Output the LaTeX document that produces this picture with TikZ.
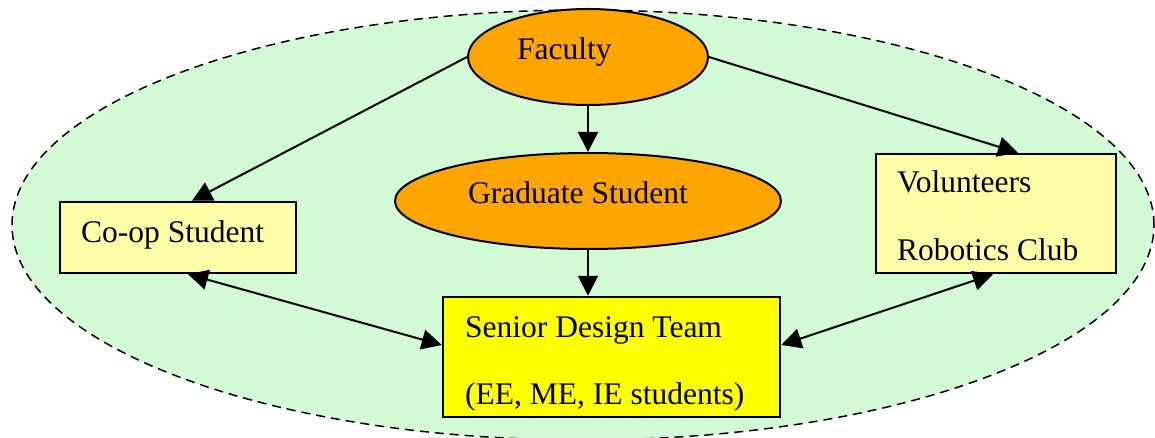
\documentclass[tikz,border=0pt]{standalone}
\usepackage{fontspec}
\setmainfont{Liberation Serif}
\usetikzlibrary{shapes.geometric,arrows.meta}
\definecolor{bggreen}{RGB}{210,250,212}
\definecolor{orangefill}{RGB}{255,165,0}
\definecolor{paleyellow}{RGB}{255,252,168}
\definecolor{brightyellow}{RGB}{255,255,0}
\begin{document}
\begin{tikzpicture}[x=1pt,y=-1pt,
  txt/.style={anchor=base west, inner sep=0, font=\fontsize{31.5}{36}\selectfont},
  oval/.style={ellipse, draw, line width=2pt, fill=orangefill, inner sep=0},
  box/.style={rectangle, draw, line width=2.5pt, inner sep=0},
  arr/.style={line width=2pt, -{Triangle[length=20pt,width=20pt]}},
  darr/.style={line width=2pt, {Triangle[length=20pt,width=20pt]}-{Triangle[length=20pt,width=20pt]}}]
\useasboundingbox (0,0) rectangle (1155,438);
\node[ellipse, draw, dash pattern=on 9pt off 6pt, line width=1.5pt, fill=bggreen,
      minimum width=1142pt, minimum height=430pt, inner sep=0] (bg) at (583,225) {};
% shapes
\node[oval, minimum width=240pt, minimum height=96pt] (fac) at (588,57) {};
\node[oval, minimum width=386pt, minimum height=96pt] (grad) at (588,201) {};
\node[box, fill=paleyellow, minimum width=236pt, minimum height=71pt] (coop) at (178,237.5) {};
\node[box, fill=paleyellow, minimum width=240pt, minimum height=119pt] (vol) at (996,213.5) {};
\node[box, fill=brightyellow, minimum width=337pt, minimum height=120pt] (sen) at (611.5,357) {};
% texts
\node[txt] (facT) at (517,60) {Faculty};
\node[txt] (gradT) at (468,204) {Graduate Student};
\node[txt] (coopT) at (81,242) {Co-op Student};
\node[txt] (volT1) at (897,193) {Volunteers};
\node[txt] (volT2) at (897,260) {Robotics Club};
\node[txt] (senT1) at (465,337) {Senior Design Team};
\node[txt] (senT2) at (465,404) {(EE, ME, IE students)};
% connectors
\draw[arr] (fac.west) -- ([xshift=14pt]coop.north);
\draw[arr] (fac.east) -- ([xshift=22pt]vol.north);
\draw[arr] (fac.south) -- (grad.north);
\draw[arr] (grad.south) -- ([xshift=-23.5pt]sen.north);
\draw[darr] ([xshift=10pt]coop.south) -- ([yshift=12pt]sen.west);
\draw[darr] ([xshift=-3pt]vol.south) -- ([yshift=12pt]sen.east);
\end{tikzpicture}
\end{document}
